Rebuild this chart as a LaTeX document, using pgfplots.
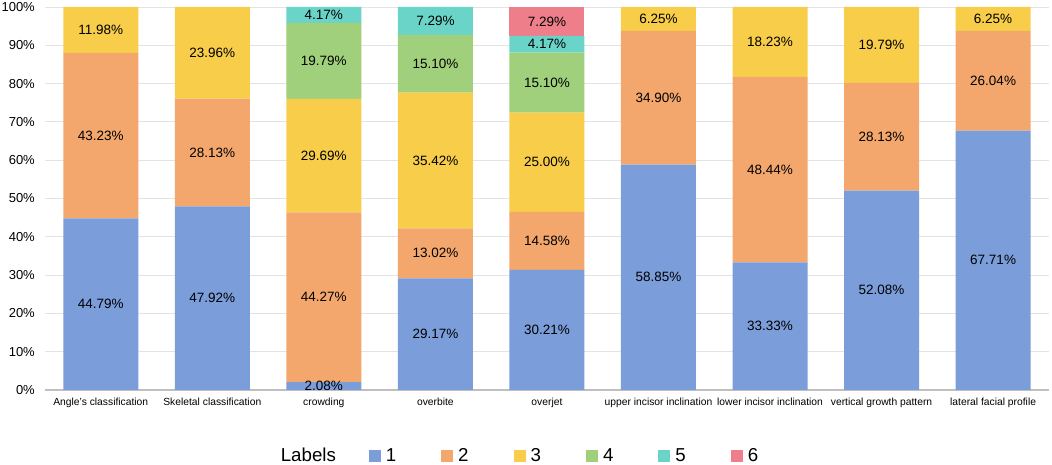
\documentclass[border=0pt]{standalone}
\usepackage{fontspec}
\setmainfont{Liberation Sans}
\usepackage{pgfplots}
\pgfplotsset{compat=1.18}
\usepackage{pgfplotstable}

\definecolor{c1}{HTML}{7B9DDA}
\definecolor{c2}{HTML}{F3A76D}
\definecolor{c3}{HTML}{F7CD49}
\definecolor{c4}{HTML}{A0D07B}
\definecolor{c5}{HTML}{6BD4C8}
\definecolor{c6}{HTML}{EE7F8A}

% overjet values (sum 96.35) are normalised to 100 for the bar heights
\pgfplotstableread{
x y
0 44.79
1 47.92
2 2.08
3 29.17
4 31.354
5 58.85
6 33.33
7 52.08
8 67.71
}\sone
\pgfplotstableread{
x y
0 43.23
1 28.13
2 44.27
3 13.02
4 15.132
5 34.90
6 48.44
7 28.13
8 26.04
}\stwo
\pgfplotstableread{
x y
0 11.98
1 23.96
2 29.69
3 35.42
4 25.947
5 6.25
6 18.23
7 19.79
8 6.25
}\sthree
\pgfplotstableread{
x y
0 0
1 0
2 19.79
3 15.10
4 15.672
5 0
6 0
7 0
8 0
}\sfour
\pgfplotstableread{
x y
0 0
1 0
2 4.17
3 7.29
4 4.328
5 0
6 0
7 0
8 0
}\sfive
\pgfplotstableread{
x y
0 0
1 0
2 0
3 0
4 7.566
5 0
6 0
7 0
8 0
}\ssix
% label positions (segment midpoints) and label texts
\pgfplotstableread{
x y label
0 22.395 44.79
0 66.405 43.23
0 94.01 11.98
1 23.96 47.92
1 61.985 28.13
1 88.03 23.96
2 1.04 2.08
2 24.215 44.27
2 61.195 29.69
2 85.935 19.79
2 97.915 4.17
3 14.585 29.17
3 35.68 13.02
3 59.90 35.42
3 85.16 15.10
3 96.355 7.29
4 15.677 30.21
4 38.92 14.58
4 59.46 25.00
4 80.269 15.10
4 90.269 4.17
4 96.216 7.29
5 29.425 58.85
5 76.30 34.90
5 96.875 6.25
6 16.665 33.33
6 57.55 48.44
6 90.885 18.23
7 26.04 52.08
7 66.145 28.13
7 90.105 19.79
8 33.855 67.71
8 80.73 26.04
8 96.875 6.25
}\labels

\pgfplotsset{
  sq/.style={legend image code/.code={\fill[##1] (0pt,-6pt) rectangle (12pt,6pt);}},
}

\begin{document}
\begin{tikzpicture}
\path[use as bounding box] (-45pt,-75pt) rectangle (1007pt,390pt);
\begin{axis}[
  at={(0pt,0pt)}, anchor=south west,
  scale only axis, width=1004pt, height=383pt,
  ybar stacked, bar width=75pt,
  xmin=-0.5, xmax=8.5, ymin=0, ymax=100,
  enlargelimits=false,
  xtick={0,...,8},
  xticklabels={Angle's classification, Skeletal classification, crowding, overbite, overjet, upper incisor inclination, lower incisor inclination, vertical growth pattern, lateral facial profile},
  ytick={0,10,...,100},
  yticklabel={\pgfmathprintnumber{\tick}\%},
  /pgf/number format/assume math mode=true,
  ymajorgrids,
  grid style={draw=black!11, line width=0.8pt},
  extra y ticks={0}, extra y tick labels={},
  extra y tick style={grid style={draw=black!25, line width=1.4pt}},
  axis line style={draw=none},
  tick style={draw=none},
  xticklabel style={font=\fontsize{10.3}{12}\selectfont, inner sep=0pt, anchor=north, yshift=-8pt, text=black},
  yticklabel style={font=\fontsize{13}{15}\selectfont, inner sep=0pt, anchor=east, xshift=-10pt, text=black},
  legend columns=7,
  legend style={at={(0.470,-0.172)}, anchor=center, draw=none, fill=none,
    font=\fontsize{18.7}{21}\selectfont, inner sep=0pt, row sep=0pt, column sep=0pt,
    nodes={inner sep=0pt},
    /tikz/every odd column/.append style={column sep=5pt}},
]
\addlegendimage{empty legend}
\addlegendentry{\makebox[88pt][l]{Labels}}
\addplot[sq, fill=c1, draw=none] table {\sone};
\addlegendentry{\makebox[55.4pt][l]{1}}
\addplot[sq, fill=c2, draw=none] table {\stwo};
\addlegendentry{\makebox[55.4pt][l]{2}}
\addplot[sq, fill=c3, draw=none] table {\sthree};
\addlegendentry{\makebox[55.4pt][l]{3}}
\addplot[sq, fill=c4, draw=none] table {\sfour};
\addlegendentry{\makebox[55.4pt][l]{4}}
\addplot[sq, fill=c5, draw=none] table {\sfive};
\addlegendentry{\makebox[55.4pt][l]{5}}
\addplot[sq, fill=c6, draw=none] table {\ssix};
\addlegendentry{\makebox[10pt][l]{6}}
\end{axis}
\begin{axis}[
  at={(0pt,0pt)}, anchor=south west,
  scale only axis, width=1004pt, height=383pt,
  xmin=-0.5, xmax=8.5, ymin=0, ymax=100,
  enlargelimits=false,
  hide axis, clip=false,
]
\addplot[only marks, mark=*, mark size=0.01pt, mark options={draw=none, fill=none},
  point meta=explicit symbolic,
  nodes near coords={\pgfplotspointmeta\%},
  every node near coord/.style={anchor=center, inner sep=0pt, font=\fontsize{13.5}{15}\selectfont, text=black}]
  table[x=x, y=y, meta=label] {\labels};
\end{axis}
\end{tikzpicture}
\end{document}
